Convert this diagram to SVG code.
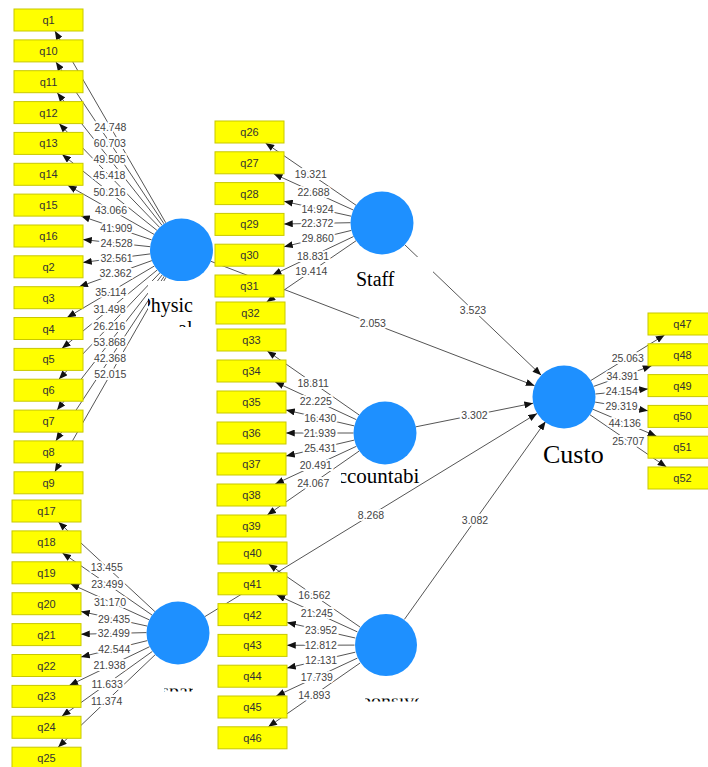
<svg xmlns="http://www.w3.org/2000/svg" width="708" height="767" viewBox="0 0 708 767">
<style>
.ln{stroke:#555;stroke-width:1;fill:none;marker-end:url(#ah)}
.lb{font-family:"Liberation Sans",Arial,sans-serif;font-size:10.5px;fill:#444;text-anchor:middle;stroke:#fff;stroke-width:4;stroke-linejoin:round;paint-order:stroke}
.bx rect{fill:#ffff00;stroke:#c8c800;stroke-width:1}
.bx text{font-family:"Liberation Sans",Arial,sans-serif;font-size:11px;fill:#333;text-anchor:middle}
.lv circle{fill:#1e90ff}
.nm{font-family:"Liberation Serif","Times New Roman",serif;fill:#000}
</style>
<defs>
<marker id="ah" viewBox="0 0 10 8" refX="10" refY="4" markerWidth="9" markerHeight="7" orient="auto" markerUnits="userSpaceOnUse"><path d="M0,0 L10,4 L0,8 z" fill="#111"/></marker>
<clipPath id="cPhy"><rect x="148" y="281" width="62" height="46"/></clipPath>
<clipPath id="cAcc"><rect x="341" y="462" width="79" height="22"/></clipPath>
<clipPath id="cCus"><rect x="538" y="436" width="65.5" height="34"/></clipPath>
<clipPath id="cLL"><rect x="164" y="688.5" width="29" height="3"/></clipPath>
<clipPath id="cBot"><rect x="365" y="698.5" width="54" height="3"/></clipPath>
</defs>
<rect width="708" height="767" fill="#fff"/>
<g id="connectors">
<line class="ln" x1="165.7" y1="222.7" x2="54.9" y2="31"/>
<line class="ln" x1="164" y1="223.8" x2="55.9" y2="61.9"/>
<line class="ln" x1="162" y1="225.3" x2="57.2" y2="92.7"/>
<line class="ln" x1="159.6" y1="227.4" x2="59.1" y2="123.6"/>
<line class="ln" x1="156.9" y1="230.3" x2="62.2" y2="154.4"/>
<line class="ln" x1="154.1" y1="234.4" x2="67.8" y2="185.3"/>
<line class="ln" x1="151.7" y1="239.9" x2="81.1" y2="216.1"/>
<line class="ln" x1="150.2" y1="246.7" x2="83" y2="239.6"/>
<line class="ln" x1="150.3" y1="253.9" x2="83" y2="262.4"/>
<line class="ln" x1="151.9" y1="260.6" x2="79.2" y2="286.7"/>
<line class="ln" x1="154.4" y1="266" x2="67.1" y2="317.5"/>
<line class="ln" x1="157.2" y1="270" x2="61.9" y2="348.4"/>
<line class="ln" x1="159.9" y1="272.8" x2="58.9" y2="379.2"/>
<line class="ln" x1="162.2" y1="274.9" x2="57.1" y2="410.1"/>
<line class="ln" x1="164.2" y1="276.3" x2="55.8" y2="440.9"/>
<line class="ln" x1="165.9" y1="277.3" x2="54.8" y2="471.8"/>
<line class="ln" x1="154.9" y1="611.6" x2="58.4" y2="522"/>
<line class="ln" x1="152.1" y1="615.1" x2="62.4" y2="552.9"/>
<line class="ln" x1="149.4" y1="619.9" x2="70.5" y2="583.8"/>
<line class="ln" x1="147.3" y1="626.1" x2="81" y2="611.4"/>
<line class="ln" x1="146.5" y1="632.6" x2="81" y2="634.2"/>
<line class="ln" x1="147.4" y1="640.6" x2="81" y2="657"/>
<line class="ln" x1="149.6" y1="646.7" x2="69.3" y2="685.4"/>
<line class="ln" x1="152.4" y1="651.4" x2="61.8" y2="716.3"/>
<line class="ln" x1="155.2" y1="654.7" x2="58.1" y2="747.2"/>
<line class="ln" x1="356" y1="205.2" x2="265.5" y2="143"/>
<line class="ln" x1="353.3" y1="210" x2="273.7" y2="173.8"/>
<line class="ln" x1="351.2" y1="216.2" x2="284" y2="201.3"/>
<line class="ln" x1="350.5" y1="222.7" x2="284" y2="224"/>
<line class="ln" x1="351.4" y1="230.4" x2="284" y2="246.8"/>
<line class="ln" x1="353.6" y1="236.5" x2="272.6" y2="275"/>
<line class="ln" x1="356" y1="240.8" x2="266.6" y2="302"/>
<line class="ln" x1="359.2" y1="415" x2="267.3" y2="351"/>
<line class="ln" x1="356.4" y1="419.7" x2="275.2" y2="382"/>
<line class="ln" x1="354.3" y1="425.9" x2="286" y2="410"/>
<line class="ln" x1="353.5" y1="433" x2="286" y2="433"/>
<line class="ln" x1="354.3" y1="440.1" x2="286" y2="456"/>
<line class="ln" x1="356.4" y1="446.3" x2="275.2" y2="484"/>
<line class="ln" x1="359.2" y1="451" x2="267.3" y2="515"/>
<line class="ln" x1="360.1" y1="627.1" x2="268.5" y2="564"/>
<line class="ln" x1="357.4" y1="631.9" x2="276.5" y2="594.8"/>
<line class="ln" x1="355.3" y1="638" x2="287" y2="622.5"/>
<line class="ln" x1="354.5" y1="645.1" x2="287" y2="645.3"/>
<line class="ln" x1="355.3" y1="652.2" x2="287" y2="668.1"/>
<line class="ln" x1="357.4" y1="658.1" x2="276.2" y2="696"/>
<line class="ln" x1="360.1" y1="663" x2="268.3" y2="726.8"/>
<line class="ln" x1="590.8" y1="380.5" x2="664.6" y2="335"/>
<line class="ln" x1="593.7" y1="386.4" x2="651.6" y2="365.8"/>
<line class="ln" x1="595.4" y1="394" x2="648" y2="388.9"/>
<line class="ln" x1="595.1" y1="402.1" x2="648" y2="410.8"/>
<line class="ln" x1="593" y1="409.3" x2="656.5" y2="436.2"/>
<line class="ln" x1="590" y1="414.8" x2="666.4" y2="467"/>
<line class="ln" x1="210.9" y1="261.3" x2="534.6" y2="385.7"/>
<line class="ln" x1="404.8" y1="244.8" x2="541.2" y2="375.2"/>
<line class="ln" x1="415.9" y1="426.8" x2="533.1" y2="403.2"/>
<line class="ln" x1="204.9" y1="616.6" x2="537.1" y2="413.4"/>
<line class="ln" x1="404.4" y1="619.4" x2="545.6" y2="421.4"/>
<g>
<text class="lb" x="110.3" y="130.5">24.748</text>
<text class="lb" x="109.9" y="146.5">60.703</text>
<text class="lb" x="109.6" y="162.7">49.505</text>
<text class="lb" x="109.4" y="179.2">45.418</text>
<text class="lb" x="109.6" y="196.1">50.216</text>
<text class="lb" x="111" y="213.5">43.066</text>
<text class="lb" x="116.4" y="231.7">41.909</text>
<text class="lb" x="116.6" y="246.9">24.528</text>
<text class="lb" x="116.6" y="261.9">32.561</text>
<text class="lb" x="115.5" y="277.3">32.362</text>
<text class="lb" x="110.8" y="295.5">35.114</text>
<text class="lb" x="109.5" y="312.9">31.498</text>
<text class="lb" x="109.4" y="329.7">26.216</text>
<text class="lb" x="109.6" y="346.2">53.868</text>
<text class="lb" x="110" y="362.3">42.368</text>
<text class="lb" x="110.3" y="378.2">52.015</text>
<text class="lb" x="106.7" y="570.5">13.455</text>
<text class="lb" x="107.2" y="587.7">23.499</text>
<text class="lb" x="110" y="605.6">31.170</text>
<text class="lb" x="114.1" y="622.5">29.435</text>
<text class="lb" x="113.8" y="637.1">32.499</text>
<text class="lb" x="114.2" y="652.5">42.544</text>
<text class="lb" x="109.5" y="669.2">21.938</text>
<text class="lb" x="107.1" y="687.6">11.633</text>
<text class="lb" x="106.6" y="704.7">11.374</text>
<text class="lb" x="310.8" y="177.8">19.321</text>
<text class="lb" x="313.5" y="195.6">22.688</text>
<text class="lb" x="317.6" y="212.5">14.924</text>
<text class="lb" x="317.3" y="227.1">22.372</text>
<text class="lb" x="317.7" y="242.3">29.860</text>
<text class="lb" x="313.1" y="259.5">18.831</text>
<text class="lb" x="311.3" y="275.1">19.414</text>
<text class="lb" x="313.2" y="386.7">18.811</text>
<text class="lb" x="315.8" y="404.5">22.225</text>
<text class="lb" x="320.2" y="421.7">16.430</text>
<text class="lb" x="319.8" y="436.7">21.939</text>
<text class="lb" x="320.2" y="451.7">25.431</text>
<text class="lb" x="315.8" y="468.9">20.491</text>
<text class="lb" x="313.2" y="486.7">24.067</text>
<text class="lb" x="314.3" y="599.2">16.562</text>
<text class="lb" x="316.9" y="617">21.245</text>
<text class="lb" x="321.1" y="633.9">23.952</text>
<text class="lb" x="320.7" y="648.9">12.812</text>
<text class="lb" x="321.1" y="663.8">12.131</text>
<text class="lb" x="316.8" y="680.7">17.739</text>
<text class="lb" x="314.2" y="698.6">14.893</text>
<text class="lb" x="627.7" y="361.5">25.063</text>
<text class="lb" x="622.6" y="379.8">34.391</text>
<text class="lb" x="621.7" y="395.1">24.154</text>
<text class="lb" x="621.5" y="410.1">29.319</text>
<text class="lb" x="624.8" y="426.5">44.136</text>
<text class="lb" x="628.2" y="444.6">25.707</text>
<text class="lb" x="372.8" y="327.2">2.053</text>
<text class="lb" x="473" y="313.7">3.523</text>
<text class="lb" x="474.5" y="418.7">3.302</text>
<text class="lb" x="371" y="518.7">8.268</text>
<text class="lb" x="475" y="524.1">3.082</text>
</g>
</g>
<g id="physical" class="lv">
<circle cx="181.5" cy="250" r="31.5"/>
<rect x="148" y="281" width="62" height="46" fill="#fff"/>
<g clip-path="url(#cPhy)"><text class="nm" font-size="20" x="193" y="311.5" text-anchor="end">Physic</text><text class="nm" font-size="20" x="192.5" y="334.5" text-anchor="end">al</text></g>
</g>
<g id="staff" class="lv">
<circle cx="382" cy="223" r="31.5"/>
<rect x="340" y="257" width="93" height="40" fill="#fff"/>
<text class="nm" font-size="20" x="356" y="286">Staff</text>
</g>
<g id="accountability" class="lv">
<circle cx="385" cy="433" r="31.5"/>
<rect x="341" y="465" width="79" height="19" fill="#fff"/>
<g clip-path="url(#cAcc)"><text class="nm" font-size="21" x="337.7" y="483">ccountabi</text></g>
</g>
<g id="customer" class="lv">
<circle cx="564" cy="397" r="31.5"/>
<g clip-path="url(#cCus)"><text class="nm" font-size="26" x="543" y="463">Custo</text></g>
</g>
<g id="lowerleft" class="lv">
<circle cx="178" cy="633" r="31.5"/>
<g clip-path="url(#cLL)"><text class="nm" font-size="20" x="178" y="698" text-anchor="middle">spar</text></g>
</g>
<g id="bottom" class="lv">
<circle cx="386" cy="645" r="31"/>
<g clip-path="url(#cBot)"><text class="nm" font-size="20" x="392" y="708" text-anchor="middle">ponsive</text></g>
</g>
<g id="q1" class="bx"><rect x="14" y="9" width="69" height="22"/><text x="48.5" y="24">q1</text></g>
<g id="q10" class="bx"><rect x="14" y="39.9" width="69" height="22"/><text x="48.5" y="54.9">q10</text></g>
<g id="q11" class="bx"><rect x="14" y="70.7" width="69" height="22"/><text x="48.5" y="85.7">q11</text></g>
<g id="q12" class="bx"><rect x="14" y="101.6" width="69" height="22"/><text x="48.5" y="116.6">q12</text></g>
<g id="q13" class="bx"><rect x="14" y="132.4" width="69" height="22"/><text x="48.5" y="147.4">q13</text></g>
<g id="q14" class="bx"><rect x="14" y="163.3" width="69" height="22"/><text x="48.5" y="178.3">q14</text></g>
<g id="q15" class="bx"><rect x="14" y="194.1" width="69" height="22"/><text x="48.5" y="209.1">q15</text></g>
<g id="q16" class="bx"><rect x="14" y="225" width="69" height="22"/><text x="48.5" y="240">q16</text></g>
<g id="q2" class="bx"><rect x="14" y="255.8" width="69" height="22"/><text x="48.5" y="270.8">q2</text></g>
<g id="q3" class="bx"><rect x="14" y="286.7" width="69" height="22"/><text x="48.5" y="301.7">q3</text></g>
<g id="q4" class="bx"><rect x="14" y="317.5" width="69" height="22"/><text x="48.5" y="332.5">q4</text></g>
<g id="q5" class="bx"><rect x="14" y="348.4" width="69" height="22"/><text x="48.5" y="363.4">q5</text></g>
<g id="q6" class="bx"><rect x="14" y="379.2" width="69" height="22"/><text x="48.5" y="394.2">q6</text></g>
<g id="q7" class="bx"><rect x="14" y="410.1" width="69" height="22"/><text x="48.5" y="425.1">q7</text></g>
<g id="q8" class="bx"><rect x="14" y="440.9" width="69" height="22"/><text x="48.5" y="455.9">q8</text></g>
<g id="q9" class="bx"><rect x="14" y="471.8" width="69" height="22"/><text x="48.5" y="486.8">q9</text></g>
<g id="q17" class="bx"><rect x="12" y="500" width="69" height="22"/><text x="46.5" y="515">q17</text></g>
<g id="q18" class="bx"><rect x="12" y="530.9" width="69" height="22"/><text x="46.5" y="545.9">q18</text></g>
<g id="q19" class="bx"><rect x="12" y="561.8" width="69" height="22"/><text x="46.5" y="576.8">q19</text></g>
<g id="q20" class="bx"><rect x="12" y="592.7" width="69" height="22"/><text x="46.5" y="607.7">q20</text></g>
<g id="q21" class="bx"><rect x="12" y="623.6" width="69" height="22"/><text x="46.5" y="638.6">q21</text></g>
<g id="q22" class="bx"><rect x="12" y="654.5" width="69" height="22"/><text x="46.5" y="669.5">q22</text></g>
<g id="q23" class="bx"><rect x="12" y="685.4" width="69" height="22"/><text x="46.5" y="700.4">q23</text></g>
<g id="q24" class="bx"><rect x="12" y="716.3" width="69" height="22"/><text x="46.5" y="731.3">q24</text></g>
<g id="q25" class="bx"><rect x="12" y="747.2" width="69" height="22"/><text x="46.5" y="762.2">q25</text></g>
<g id="q26" class="bx"><rect x="215" y="121" width="69" height="22"/><text x="249.5" y="136">q26</text></g>
<g id="q27" class="bx"><rect x="215" y="151.8" width="69" height="22"/><text x="249.5" y="166.8">q27</text></g>
<g id="q28" class="bx"><rect x="215" y="182.6" width="69" height="22"/><text x="249.5" y="197.6">q28</text></g>
<g id="q29" class="bx"><rect x="215" y="213.4" width="69" height="22"/><text x="249.5" y="228.4">q29</text></g>
<g id="q30" class="bx"><rect x="215" y="244.2" width="69" height="22"/><text x="249.5" y="259.2">q30</text></g>
<g id="q31" class="bx"><rect x="215" y="275" width="69" height="22"/><text x="249.5" y="290">q31</text></g>
<g id="q32" class="bx"><rect x="216" y="302" width="69" height="22"/><text x="250.5" y="317">q32</text></g>
<g id="q33" class="bx"><rect x="217" y="329" width="69" height="22"/><text x="251.5" y="344">q33</text></g>
<g id="q34" class="bx"><rect x="217" y="360" width="69" height="22"/><text x="251.5" y="375">q34</text></g>
<g id="q35" class="bx"><rect x="217" y="391" width="69" height="22"/><text x="251.5" y="406">q35</text></g>
<g id="q36" class="bx"><rect x="217" y="422" width="69" height="22"/><text x="251.5" y="437">q36</text></g>
<g id="q37" class="bx"><rect x="217" y="453" width="69" height="22"/><text x="251.5" y="468">q37</text></g>
<g id="q38" class="bx"><rect x="217" y="484" width="69" height="22"/><text x="251.5" y="499">q38</text></g>
<g id="q39" class="bx"><rect x="217" y="515" width="69" height="22"/><text x="251.5" y="530">q39</text></g>
<g id="q40" class="bx"><rect x="218" y="542" width="69" height="22"/><text x="252.5" y="557">q40</text></g>
<g id="q41" class="bx"><rect x="218" y="572.8" width="69" height="22"/><text x="252.5" y="587.8">q41</text></g>
<g id="q42" class="bx"><rect x="218" y="603.6" width="69" height="22"/><text x="252.5" y="618.6">q42</text></g>
<g id="q43" class="bx"><rect x="218" y="634.4" width="69" height="22"/><text x="252.5" y="649.4">q43</text></g>
<g id="q44" class="bx"><rect x="218" y="665.2" width="69" height="22"/><text x="252.5" y="680.2">q44</text></g>
<g id="q45" class="bx"><rect x="218" y="696" width="69" height="22"/><text x="252.5" y="711">q45</text></g>
<g id="q46" class="bx"><rect x="218" y="726.8" width="69" height="22"/><text x="252.5" y="741.8">q46</text></g>
<g id="q47" class="bx"><rect x="648" y="313" width="69" height="22"/><text x="682.5" y="328">q47</text></g>
<g id="q48" class="bx"><rect x="648" y="343.8" width="69" height="22"/><text x="682.5" y="358.8">q48</text></g>
<g id="q49" class="bx"><rect x="648" y="374.6" width="69" height="22"/><text x="682.5" y="389.6">q49</text></g>
<g id="q50" class="bx"><rect x="648" y="405.4" width="69" height="22"/><text x="682.5" y="420.4">q50</text></g>
<g id="q51" class="bx"><rect x="648" y="436.2" width="69" height="22"/><text x="682.5" y="451.2">q51</text></g>
<g id="q52" class="bx"><rect x="648" y="467" width="69" height="22"/><text x="682.5" y="482">q52</text></g>
</svg>
